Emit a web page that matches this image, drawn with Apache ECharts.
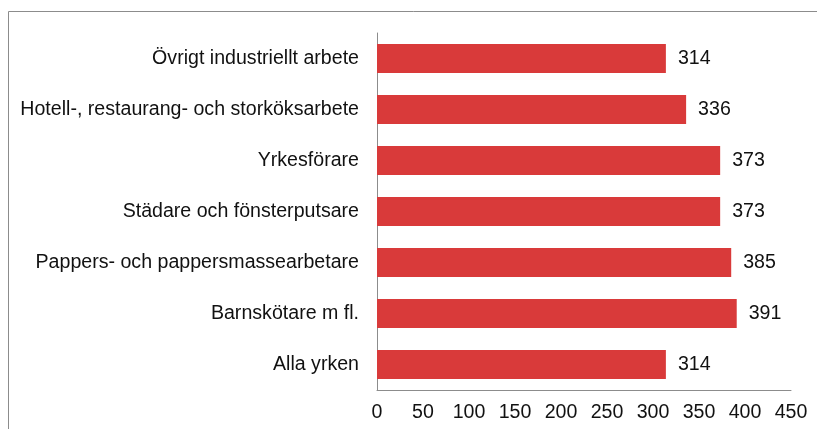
<!DOCTYPE html>
<html><head><meta charset="utf-8">
<script src="https://cdn.jsdelivr.net/npm/echarts@6/dist/echarts.min.js"></script>
<style>html,body{margin:0;padding:0;background:#fff}#c{width:817px;height:429px}</style>
</head><body><div id="c"></div>
<script>
const categories = ["Övrigt industriellt arbete","Hotell-, restaurang- och storköksarbete","Yrkesförare","Städare och fönsterputsare","Pappers- och pappersmassearbetare","Barnskötare m fl.","Alla yrken"];
const values = [314, 336, 373, 373, 385, 391, 314];
const xTicks = {min: 0, max: 450, interval: 50};

const chart = echarts.init(document.getElementById('c'), null, {renderer: 'canvas'});
chart.setOption({
  animation: false,
  graphic: [{type: 'rect', shape: {x: 8.5, y: 11.5, width: 900, height: 500}, style: {fill: 'none', stroke: '#8c8c8c', lineWidth: 1}, z: -1}],
  grid: {left: 377, right: 26, top: 33, bottom: 39, containLabel: false},
  xAxis: {type: 'value', min: xTicks.min, max: xTicks.max, interval: xTicks.interval,
    axisLine: {show: true, lineStyle: {color: '#8c8c8c', width: 1}},
    axisTick: {show: false}, splitLine: {show: false},
    axisLabel: {color: '#111', fontFamily: 'Liberation Sans, Arial', fontSize: 19.6, margin: 13}},
  yAxis: {type: 'category', data: categories, inverse: true,
    axisLine: {show: true, lineStyle: {color: '#8c8c8c', width: 1}},
    axisTick: {show: false},
    axisLabel: {color: '#111', fontFamily: 'Liberation Sans, Arial', fontSize: 19.6, margin: 18}},
  series: [{type: 'bar', data: values, barWidth: '57%', itemStyle: {color: '#d93a3a'},
    label: {show: true, position: 'right', distance: 12, color: '#111', fontFamily: 'Liberation Sans, Arial', fontSize: 19.6}}]
});
</script></body></html>
